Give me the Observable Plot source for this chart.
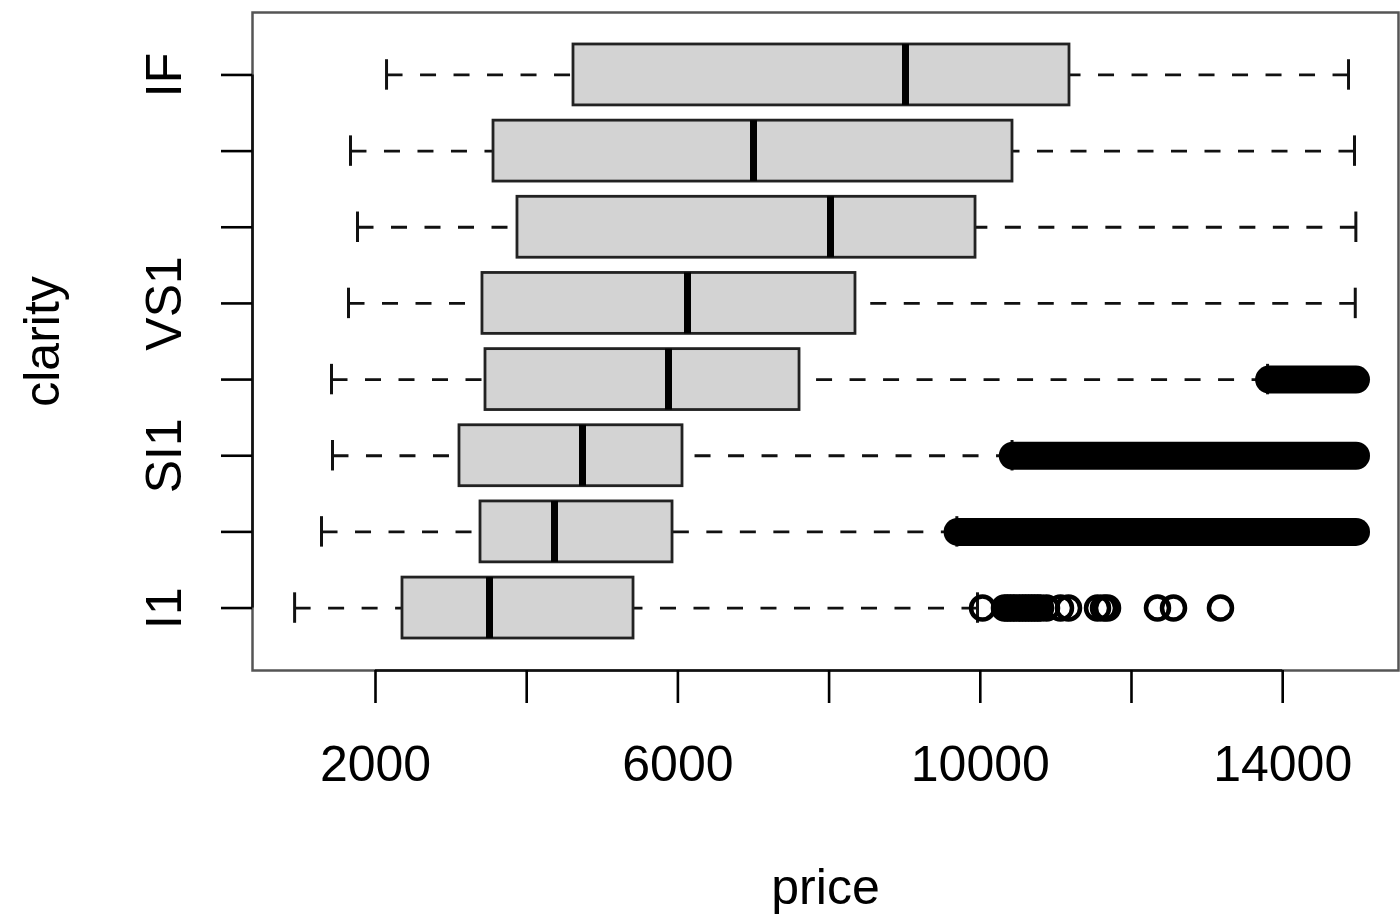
<!DOCTYPE html>
<html>
<head>
<meta charset="utf-8">
<script src="https://cdn.jsdelivr.net/npm/d3@7"></script>
<script src="https://cdn.jsdelivr.net/npm/@observablehq/plot@0.6"></script>
<style>
  html, body { margin: 0; padding: 0; background: #fff; }
</style>
</head>
<body>
<div id="chart"></div>
<script>
// Diamond price by clarity: box-and-whisker summaries (bottom to top)
const clarity     = ["I1", "SI2", "SI1", "VS2", "VS1", "VVS2", "VVS1", "IF"];
const whiskerLow  = [930, 1286, 1431, 1418, 1643, 1762, 1669, 2146];
const lowerQuart  = [2357, 3389, 3111, 3455, 3415, 3878, 3561, 4619];
const medianPrice = [3508, 4368, 4738, 5876, 6127, 8019, 7000, 9011];
const upperQuart  = [5413, 5929, 6061, 7609, 8349, 9937, 10426, 11180];
const whiskerHigh = [9963, 9690, 10420, 13800, 14960, 14968, 14950, 14871];

// Individual outliers of I1
const outlierClarity = "I1";
const outlierPrices = [10030, 10320, 10360, 10400, 10440, 10479, 10520, 10559, 10600,
                       10638, 10680, 10717, 10760, 10797, 10876,
                       11061, 11167, 11551, 11630, 11683, 12344, 12556, 13177];

// Runs of outliers so dense that the circles merge into one solid bar
const denseClarity = ["SI2", "SI1", "VS2"];
const denseFrom    = [9700, 10430, 13820];
const denseTo      = [14970, 14970, 14970];

// Axis ticks and the labels that are printed
const xTicks = [2000, 4000, 6000, 8000, 10000, 12000, 14000];
const xTickLabels = [2000, 6000, 10000, 14000];
const yTickLabels = ["I1", "SI1", "VS1", "IF"];

const pos = c => clarity.indexOf(c) + 1;
const rows = clarity.map((c, i) => ({
  clarity: c, pos: i + 1,
  lo: whiskerLow[i], q1: lowerQuart[i], med: medianPrice[i],
  q3: upperQuart[i], hi: whiskerHigh[i]
}));
const outliers = outlierPrices.map(p => ({pos: pos(outlierClarity), price: p}));
const dense = denseClarity.map((c, i) => ({pos: pos(c), from: denseFrom[i], to: denseTo[i]}));
const half = 0.4;   // half box height in category units
const staple = 0.2; // half whisker cap length

const chart = Plot.plot({
  width: 1400,
  height: 917,
  marginLeft: 252,
  marginRight: 2,
  marginTop: 12,
  marginBottom: 247,
  style: {fontFamily: "'Liberation Sans', Arial, Helvetica, sans-serif", fontSize: "50px", color: "#000", background: "#fff"},
  x: {domain: [373, 15532]},
  y: {domain: [0.18, 8.82]},
  marks: [
    // dashed whiskers, drawn from the whisker end toward the box
    Plot.link(rows, {x1: "lo", x2: "q1", y1: "pos", y2: "pos", stroke: "#111", strokeWidth: 2.8, strokeDasharray: "16,17.5"}),
    Plot.link(rows, {x1: "hi", x2: "q3", y1: "pos", y2: "pos", stroke: "#111", strokeWidth: 2.8, strokeDasharray: "16,17.5"}),
    // whisker caps
    Plot.ruleX(rows, {x: "lo", y1: d => d.pos - staple, y2: d => d.pos + staple, stroke: "#111", strokeWidth: 3}),
    Plot.ruleX(rows, {x: "hi", y1: d => d.pos - staple, y2: d => d.pos + staple, stroke: "#111", strokeWidth: 3}),
    // boxes
    Plot.rect(rows, {x1: "q1", x2: "q3", y1: d => d.pos - half, y2: d => d.pos + half, fill: "#d3d3d3", stroke: "#222", strokeWidth: 2.8}),
    // medians
    Plot.ruleX(rows, {x: "med", y1: d => d.pos - half, y2: d => d.pos + half, stroke: "#000", strokeWidth: 7}),
    // outliers
    Plot.link(dense, {x1: "from", x2: "to", y1: "pos", y2: "pos", stroke: "#000", strokeWidth: 28, strokeLinecap: "round"}),
    Plot.dot(outliers, {x: "price", y: "pos", r: 11.5, stroke: "#000", strokeWidth: 4.5, fill: "none"}),
    // plot frame
    Plot.frame({stroke: "#555", strokeWidth: 2.5}),
    // axis lines spanning the first to last tick
    Plot.ruleY([0.18], {x1: xTicks[0], x2: xTicks[xTicks.length - 1], stroke: "#111", strokeWidth: 2.6}),
    Plot.ruleX([373], {y1: 1, y2: clarity.length, stroke: "#111", strokeWidth: 2.6}),
    // x axis
    Plot.axisX({ticks: xTicks, tickSize: 33, tickPadding: 42, strokeWidth: 2.6, fontSize: 50, label: null,
                tickFormat: d => xTickLabels.includes(d) ? String(d) : ""}),
    // y axis ticks
    Plot.axisY({ticks: clarity.map((c, i) => i + 1), tickSize: 31, strokeWidth: 2.6, label: null, tickFormat: () => ""}),
    // y tick labels (rotated)
    Plot.text(yTickLabels, {y: d => pos(d), text: d => d, frameAnchor: "left", dx: -72, rotate: -90,
                            textAnchor: "middle", lineAnchor: "bottom", fontSize: 50, fill: "#000"}),
    // axis titles
    Plot.text(["clarity"], {frameAnchor: "left", dx: -194, rotate: -90, textAnchor: "middle", lineAnchor: "bottom", fontSize: 50, fill: "#000"}),
    Plot.text(["price"], {frameAnchor: "bottom", dy: 233, textAnchor: "middle", lineAnchor: "bottom", fontSize: 50, fill: "#000"})
  ]
});

document.getElementById("chart").appendChild(chart);
</script>
</body>
</html>
